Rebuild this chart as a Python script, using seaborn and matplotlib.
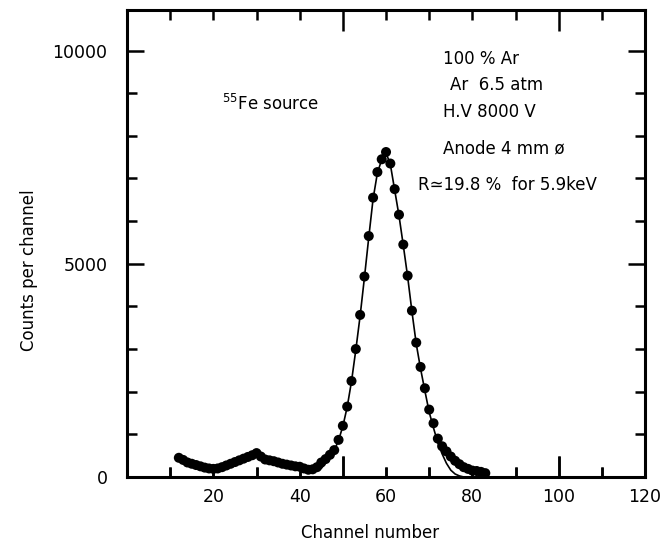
import matplotlib
matplotlib.use("Agg")
import matplotlib.pyplot as plt
import matplotlib.transforms as mtransforms
import seaborn as sns
import pandas as pd
from matplotlib.ticker import FuncFormatter

# Measured pulse-height spectrum (one point per channel)
channels = list(range(12, 84))
counts = [
    450, 400, 340, 310, 280, 250, 220, 200, 190, 200,      # 12-21
    230, 270, 310, 350, 390, 430, 470, 510, 560, 480,      # 22-31
    410, 390, 370, 340, 310, 290, 270, 250, 240, 200,      # 32-41
    170, 180, 230, 340, 420, 520, 630, 870, 1200, 1650,    # 42-51
    2250, 3000, 3800, 4700, 5650, 6550, 7150, 7450, 7620, 7350,  # 52-61
    6750, 6150, 5450, 4720, 3900, 3150, 2580, 2080, 1580, 1260,  # 62-71
    900, 720, 600, 480, 380, 300, 230, 190, 150, 140,      # 72-81
    120, 90,                                               # 82-83
]

# Fitted peak curve
fit_channels = list(range(45, 79))
fit_counts = [
    200, 330, 470, 620, 860, 1190, 1640, 2240, 2980,
    3780, 4680, 5620, 6520, 7130, 7440, 7600, 7330, 6730, 6130,
    5430, 4700, 3880, 3120, 2540, 2020, 1520, 1150, 800, 540,
    320, 160, 70, 25, 0,
]

# Long x marks at 50 and 100, short marks at the other tens
x_long_ticks = [50, 100]
x_short_ticks = [10, 20, 30, 40, 60, 70, 80, 90, 110, 120]
x_labelled = [20, 40, 60, 80, 100, 120]
y_ticks_labelled = [0, 5000, 10000]
y_ticks_minor = [1000, 2000, 3000, 4000, 6000, 7000, 8000, 9000]

annotations = [
    (73.2, 9810, "100 % Ar"),
    (74.8, 9180, "Ar  6.5 atm"),
    (73.2, 8550, "H.V 8000 V"),
    (73.2, 7700, "Anode 4 mm ø"),
    (67.4, 6840, "R≃19.8 %  for 5.9keV"),
    (22.0, 8740, "$^{55}$Fe source"),
]

X_RANGE = (0, 120)
Y_RANGE = (0, 10950)
RECT = [0.1916, 0.128, 0.7813, 0.8537]

sns.set_style("white")
plt.rcParams.update({
    "font.family": ["DejaVu Sans"],
    "text.color": "black",
    "axes.labelcolor": "black",
    "xtick.color": "black",
    "ytick.color": "black",
    "xtick.bottom": True,
    "ytick.left": True,
})

spec = pd.DataFrame({"channel": channels, "counts": counts})
fit = pd.DataFrame({"channel": fit_channels, "counts": fit_counts})

fig = plt.figure(figsize=(6.63, 5.47), dpi=100)

# data layer
ax = fig.add_axes(RECT)
sns.lineplot(data=fit, x="channel", y="counts", color="black", linewidth=1.2, ax=ax)
sns.scatterplot(data=spec, x="channel", y="counts", color="black", s=52,
                edgecolor="none", ax=ax, zorder=3)
ax.set_xlim(*X_RANGE)
ax.set_ylim(*Y_RANGE)
ax.set_axis_off()

for xv, yv, txt in annotations:
    ax.text(xv, yv, txt, fontsize=12, ha="left", va="center", color="black")

# frame, ticks and labels on a transparent layer above the data
frame = fig.add_axes(RECT, facecolor="none")
frame.set_xlim(*X_RANGE)
frame.set_ylim(*Y_RANGE)
frame.set_xticks(x_long_ticks)
frame.set_xticks(x_short_ticks, minor=True)
frame.set_yticks(y_ticks_labelled)
frame.set_yticks(y_ticks_minor, minor=True)

x_fmt = FuncFormatter(lambda v, _: f"{v:.0f}" if round(v) in x_labelled else "")
frame.xaxis.set_major_formatter(x_fmt)
frame.xaxis.set_minor_formatter(x_fmt)
frame.yaxis.set_major_formatter(FuncFormatter(lambda v, _: f"{v:.0f}"))
frame.yaxis.set_minor_formatter(FuncFormatter(lambda v, _: ""))

for s in frame.spines.values():
    s.set_linewidth(2.2)
    s.set_color("black")

frame.tick_params(axis="both", which="both", direction="in", top=True, right=True,
                  bottom=True, left=True, color="black", width=1.8,
                  labelsize=12.5, labelcolor="black")
frame.tick_params(axis="x", which="major", length=15, pad=8)
frame.tick_params(axis="x", which="minor", length=7, pad=8)
frame.tick_params(axis="y", which="major", length=12, pad=14)
frame.tick_params(axis="y", which="minor", length=7)

# inward marks standing on the bottom spine, sized like the top ones
bottom_edge = mtransforms.blended_transform_factory(frame.transData, frame.transAxes)
frame.vlines(x_short_ticks, 0, 0.021, transform=bottom_edge, color="black",
             linewidth=1.8, clip_on=False)
frame.vlines(x_long_ticks, 0, 0.045, transform=bottom_edge, color="black",
             linewidth=1.8, clip_on=False)
frame.set_xlim(*X_RANGE)
frame.set_ylim(*Y_RANGE)

frame.set_xlabel("Channel number", fontsize=12)
frame.set_ylabel("Counts per channel", fontsize=12)
frame.xaxis.set_label_coords(0.469, -0.10)
frame.yaxis.set_label_coords(-0.172, 0.443)

fig.savefig("out.png", dpi=100, facecolor="white")
